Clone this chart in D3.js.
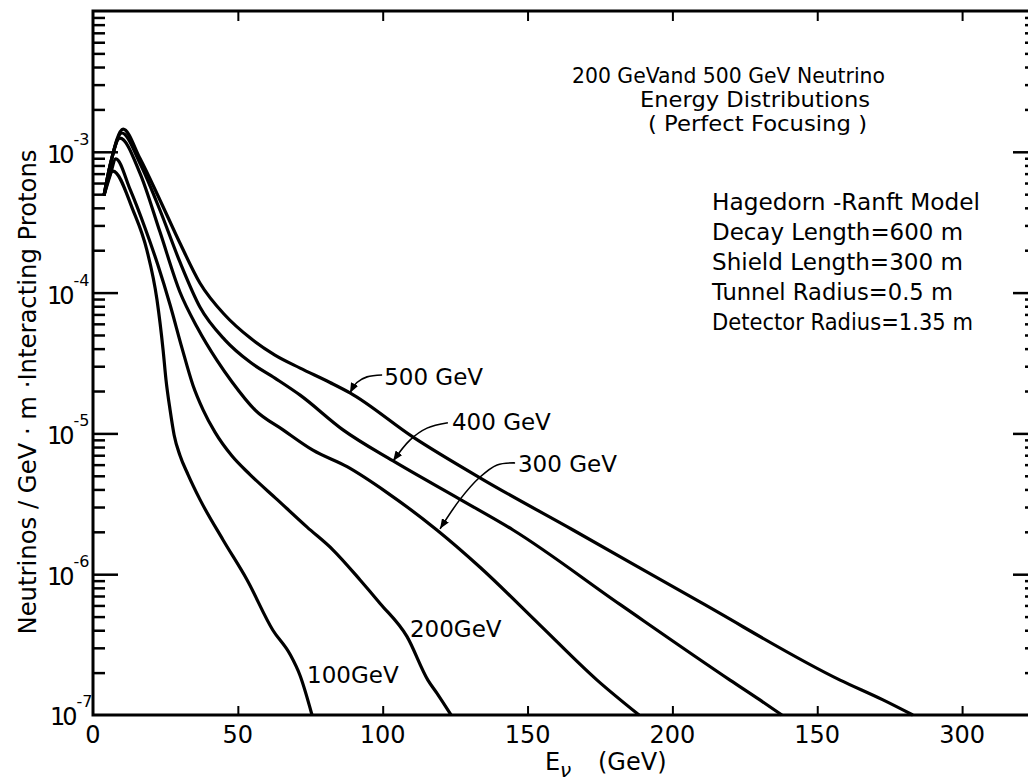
<!DOCTYPE html>
<html>
<head>
<meta charset="utf-8">
<script src="https://cdn.jsdelivr.net/npm/d3@7/dist/d3.min.js"></script>
<style>
  body { margin: 0; background: #fff; }
  text { font-family: "DejaVu Sans", sans-serif; fill: #000; }
</style>
</head>
<body>
<svg id="chart"></svg>
<script>
// neutrino spectra: [E (GeV), neutrinos / GeV m interacting proton]
var c500 = [[3.8, 4.9e-4], [5.9, 8.0e-4], [10.4, 1.45e-3], [16.2, 9.0e-4], [23.1, 4.55e-4],
            [30.0, 2.25e-4], [36.9, 1.17e-4], [45.6, 6.9e-5], [54.2, 4.77e-5], [62.8, 3.6e-5],
            [71.5, 2.91e-5], [81.8, 2.3e-5], [88.7, 1.94e-5], [110.5, 9.4e-6], [134.6, 4.7e-6],
            [165.7, 2.06e-6], [209.5, 6.35e-7], [257.9, 1.77e-7], [272.7, 1.28e-7], [283.0, 1e-7]];
var c400 = [[3.8, 4.9e-4], [5.9, 8.0e-4], [10.0, 1.36e-3], [16.2, 8.3e-4], [23.1, 3.86e-4],
            [30.0, 1.65e-4], [36.9, 7.9e-5], [45.6, 4.6e-5], [54.2, 3.21e-5], [62.8, 2.47e-5],
            [71.5, 1.87e-5], [86.3, 1.06e-5], [103.6, 6.37e-6], [126.7, 3.4e-6], [145.0, 2.06e-6],
            [181.9, 6.1e-7], [219.9, 1.77e-7], [230.2, 1.28e-7], [237.8, 1e-7]];
var c300 = [[3.8, 4.9e-4], [5.9, 8.0e-4], [9.3, 1.25e-3], [16.2, 7.06e-4], [23.1, 2.7e-4],
            [30.0, 1.01e-4], [35.9, 5.7e-5], [42.8, 3.3e-5], [48.0, 2.32e-5], [55.9, 1.47e-5],
            [65.6, 1.06e-5], [75.9, 7.6e-6], [87.7, 5.8e-6], [101.5, 3.8e-6], [118.7, 2.06e-6],
            [133.6, 1.12e-6], [154.3, 4.35e-7], [174.0, 1.77e-7], [188.5, 1e-7]];
var c200 = [[3.8, 4.9e-4], [5.9, 6.8e-4], [7.9, 8.9e-4], [12.8, 5.4e-4], [17.9, 2.9e-4],
            [22.4, 1.57e-4], [26.6, 8.2e-5], [30.7, 4.05e-5], [34.5, 2.2e-5], [38.0, 1.47e-5],
            [42.1, 1.02e-5], [48.0, 6.9e-6], [54.2, 5.1e-6], [63.5, 3.4e-6], [73.9, 2.16e-6],
            [82.8, 1.49e-6], [92.2, 9.1e-7], [99.1, 6.2e-7], [108.4, 3.6e-7], [115.6, 1.77e-7],
            [118.7, 1.43e-7], [123.6, 1e-7]];
var c100 = [[3.8, 4.9e-4], [6.9, 7.3e-4], [13.8, 3.85e-4], [18.6, 2.0e-4], [22.1, 8.85e-5],
            [24.2, 3.9e-5], [25.2, 2.4e-5], [26.6, 1.47e-5], [28.0, 9.75e-6], [30.0, 7.0e-6],
            [32.8, 5.1e-6], [36.9, 3.4e-6], [44.9, 1.75e-6], [53.2, 9.1e-7], [62.1, 4.0e-7],
            [68.0, 2.7e-7], [71.5, 1.9e-7], [75.6, 1e-7]];

var curveNames = ["500 GeV", "400 GeV", "300 GeV", "200GeV", "100GeV"];
// where each curve name sits (start of text, baseline)
var labelAt = [[100.5, 2.2e-5], [123.9, 1.06e-5], [146.7, 5.3e-6], [109.4, 3.6e-7], [73.9, 1.69e-7]];

// leader arrows from the labels to their curves
var arrow500 = [[99.8, 2.6e-5], [94.6, 2.52e-5], [91.1, 2.3e-5], [88.7, 1.94e-5]];
var arrow400 = [[122.5, 1.19e-5], [115.3, 1.09e-5], [109.4, 8.97e-6], [103.6, 6.37e-6]];
var arrow300 = [[145.7, 6.17e-6], [139.5, 5.97e-6], [133.6, 4.9e-6], [126.7, 3.4e-6], [119.8, 2.1e-6]];

var xTicks = [0, 50, 100, 150, 200, 250, 300];
var xTickLabels = ["0", "50", "100", "150", "200", "150", "300"];
var yDecades = [1e-7, 1e-6, 1e-5, 1e-4, 1e-3, 1e-2];
var yExponents = ["-7", "-6", "-5", "-4", "-3"];

var titleLines = ["200 GeVand 500 GeV Neutrino", "Energy Distributions", "( Perfect Focusing )"];
var modelLines = ["Hagedorn -Ranft Model", "Decay Length=600 m", "Shield Length=300 m",
                  "Tunnel Radius=0.5 m", "Detector Radius=1.35 m"];

var width = 1028, height = 783;
var svg = d3.select("#chart").attr("width", width).attr("height", height);

var x = d3.scaleLinear().domain([0, 322.75]).range([93, 1028]);
var y = d3.scaleLog().domain([1e-7, 1e-2]).range([715, 11]);

var minors = [];
yDecades.slice(0, 5).forEach(function(d) {
    for (var m = 2; m <= 9; m++) minors.push(d * m);
});

function styleAxis(g, w) {
    g.select(".domain").remove();
    g.selectAll(".tick line").attr("stroke", "#000").attr("stroke-width", w);
    g.selectAll(".tick text").remove();
}

// left axis ticks (inward)
svg.append("g").attr("transform", "translate(93,0)")
    .call(d3.axisLeft(y).tickValues(yDecades.slice(1, 5)).tickSize(-25))
    .call(styleAxis, 2.5);
svg.append("g").attr("transform", "translate(93,0)")
    .call(d3.axisLeft(y).tickValues(minors).tickSize(-12))
    .call(styleAxis, 2.5);

// right axis ticks
svg.append("g").attr("transform", "translate(1029,0)")
    .call(d3.axisRight(y).tickValues(yDecades.slice(1, 5)).tickSize(-16))
    .call(styleAxis, 2.5);
svg.append("g").attr("transform", "translate(1029,0)")
    .call(d3.axisRight(y).tickValues(minors).tickSize(-4))
    .call(styleAxis, 2.5);

// bottom and top ticks
svg.append("g").attr("transform", "translate(0,715)")
    .call(d3.axisBottom(x).tickValues(xTicks.slice(1)).tickSize(-9))
    .call(styleAxis, 2);
svg.append("g").attr("transform", "translate(0,11)")
    .call(d3.axisTop(x).tickValues(xTicks.slice(1)).tickSize(-10))
    .call(styleAxis, 2);

// frame
svg.append("path")
    .attr("d", "M" + x(322.75) + "," + y(1e-2) + "H" + x(0) + "V" + y(1e-7) + "H" + x(322.75))
    .attr("fill", "none").attr("stroke", "#000").attr("stroke-width", 3);

// x tick labels
svg.append("g").selectAll("text").data(xTicks).enter().append("text")
    .attr("x", function(d) { return x(d); })
    .attr("y", 743)
    .attr("text-anchor", "middle")
    .style("font-size", "24px")
    .text(function(d, i) { return xTickLabels[i]; });

// y tick labels: 10 with a raised exponent, one text element each
var ylab = svg.append("g").selectAll("text").data(yDecades.slice(0, 5)).enter().append("text")
    .attr("x", function(d, i) { return i === 0 ? 50 : 47; })
    .attr("y", function(d, i) { return y(d) + (i === 0 ? 10 : 11); })
    .style("font-size", "24px");
ylab.append("tspan").style("letter-spacing", "-3px").text("10");
ylab.append("tspan").attr("dx", 2).attr("dy", -18).style("font-size", "16px")
    .text(function(d, i) { return yExponents[i]; });

// curves
var line = d3.line()
    .x(function(d) { return x(d[0]); })
    .y(function(d) { return y(d[1]); })
    .curve(d3.curveMonotoneX);

svg.append("g").selectAll("path").data([c500, c400, c300, c200, c100]).enter().append("path")
    .attr("d", line)
    .attr("fill", "none")
    .attr("stroke", "#000")
    .attr("stroke-width", 3.2)
    .attr("stroke-linejoin", "round");

// arrows
svg.append("defs").append("marker")
    .attr("id", "head")
    .attr("viewBox", "0 0 10 8")
    .attr("refX", 10).attr("refY", 4)
    .attr("markerWidth", 10).attr("markerHeight", 8)
    .attr("markerUnits", "userSpaceOnUse")
    .attr("orient", "auto")
    .append("path").attr("d", "M0,0L10,4L0,8Z").attr("fill", "#000");

var lead = d3.line()
    .x(function(d) { return x(d[0]); })
    .y(function(d) { return y(d[1]); })
    .curve(d3.curveCatmullRom);

svg.append("g").selectAll("path").data([arrow500, arrow400, arrow300]).enter().append("path")
    .attr("d", lead)
    .attr("fill", "none")
    .attr("stroke", "#000")
    .attr("stroke-width", 1.6)
    .attr("marker-end", "url(#head)");

// curve names
svg.append("g").selectAll("text").data(curveNames).enter().append("text")
    .attr("x", function(d, i) { return x(labelAt[i][0]); })
    .attr("y", function(d, i) { return y(labelAt[i][1]); })
    .style("font-size", "23px")
    .text(function(d) { return d; });

var titleStarts = [572, 640, 648], titleEnds = [885, 870, 867];
svg.append("g").selectAll("text").data(titleLines).enter().append("text")
    .attr("x", function(d, i) { return titleStarts[i]; })
    .attr("y", function(d, i) { return 83 + i * 24; })
    .attr("textLength", function(d, i) { return titleEnds[i] - titleStarts[i]; })
    .attr("lengthAdjust", "spacingAndGlyphs")
    .style("font-size", "22px")
    .text(function(d) { return d; });

var modelEnds = [980, 963, 963, 953, 973];
svg.append("g").selectAll("text").data(modelLines).enter().append("text")
    .attr("x", 712)
    .attr("y", function(d, i) { return 210 + i * 30; })
    .attr("textLength", function(d, i) { return modelEnds[i] - 712; })
    .attr("lengthAdjust", "spacingAndGlyphs")
    .style("font-size", "23px")
    .text(function(d) { return d; });

// axis titles
svg.append("text")
    .attr("transform", "translate(36,392) rotate(-90)")
    .attr("text-anchor", "middle")
    .attr("textLength", 485).attr("lengthAdjust", "spacingAndGlyphs")
    .style("font-size", "24px")
    .text("Neutrinos / GeV \u00b7 m  \u00b7Interacting Protons");

svg.append("text").attr("x", 545).attr("y", 770).style("font-size", "24px").text("E");
svg.append("text").attr("x", 560).attr("y", 777).style("font-size", "20px").style("font-style", "italic").text("\u03bd");
svg.append("text").attr("x", 598).attr("y", 770).style("font-size", "24px").text("(GeV)");
</script>
</body>
</html>
